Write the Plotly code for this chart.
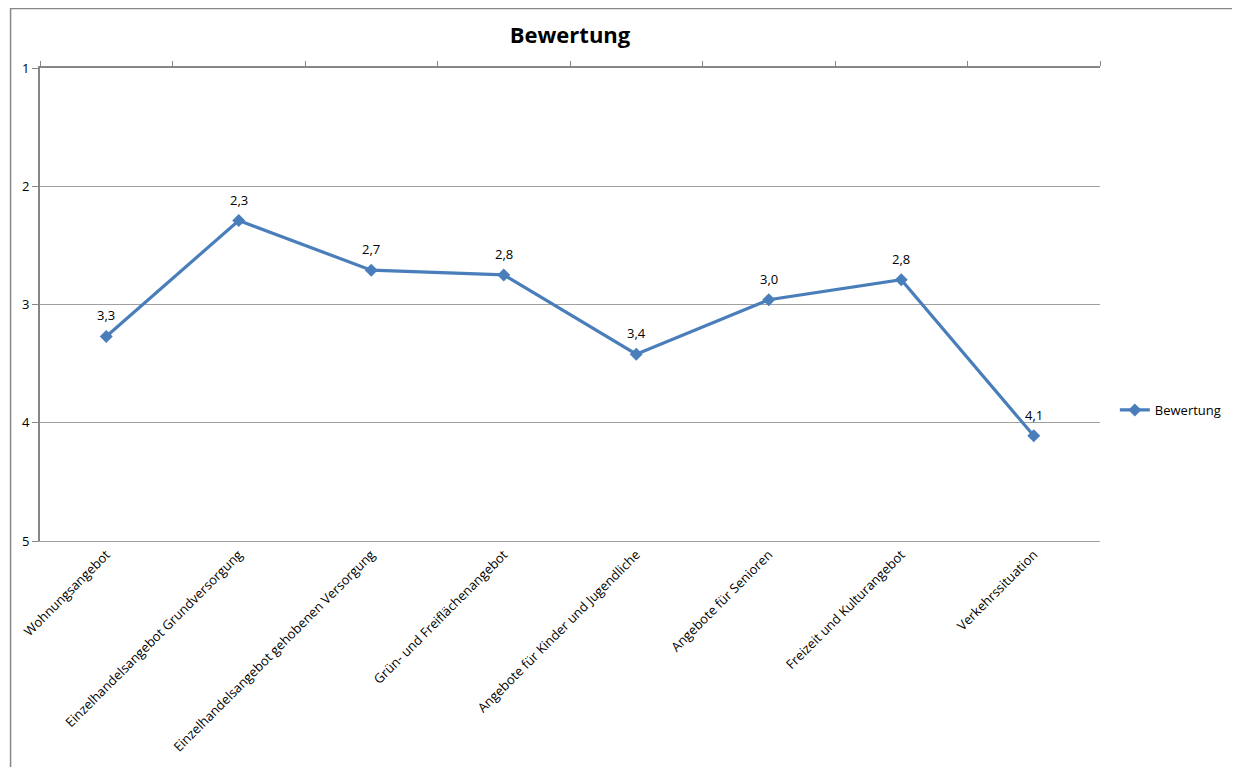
import plotly.graph_objects as go

categories = [
    "Wohnungsangebot",
    "Einzelhandelsangebot Grundversorgung",
    "Einzelhandelsangebot gehobenen Versorgung",
    "Grün- und Freiflächenangebot",
    "Angebote für Kinder und Jugendliche",
    "Angebote für Senioren",
    "Freizeit und Kulturangebot",
    "Verkehrssituation",
]
values = [3.27, 2.29, 2.71, 2.75, 3.42, 2.96, 2.79, 4.11]
series_name = "Bewertung"
y_ticks = [1, 2, 3, 4, 5]
boundaries = [i - 0.5 for i in range(len(categories) + 1)]

BLUE = "#4A7EBB"
FONT = "Open Sans"
W, H = 1232, 759
ML, MR, MT, MB = 30, 140, 60, 226
PW, PH = W - ML - MR, H - MT - MB

fig = go.Figure()
fig.add_trace(go.Scatter(
    x=list(range(len(categories))), y=values, name=series_name,
    mode="lines+markers",
    line=dict(color=BLUE, width=3.2),
    marker=dict(symbol="diamond", size=10, color=BLUE),
    cliponaxis=False,
))
# helper invisible trace for the top (crossing) axis
fig.add_trace(go.Scatter(
    x=[boundaries[0], boundaries[-1]], y=[1, 1], xaxis="x2", yaxis="y",
    mode="lines", line=dict(width=0), showlegend=False, hoverinfo="skip",
))

annotations = [
    dict(x=i, y=v, xref="x", yref="y", text=f"{v:.1f}".replace(".", ","),
         showarrow=False, yshift=21, font=dict(family=FONT, size=13, color="#000000"))
    for i, v in enumerate(values)
]

fig.update_layout(
    width=W, height=H,
    margin=dict(l=ML, r=MR, t=MT, b=MB),
    paper_bgcolor="white", plot_bgcolor="white",
    separators=",.",
    title=dict(text="<b>Bewertung</b>", x=0.5, xref="paper", xanchor="center",
               y=(H - 27) / H, yref="container", yanchor="middle",
               font=dict(family=FONT, size=22, color="#000000")),
    font=dict(family=FONT, size=13, color="#000000"),
    annotations=annotations,
    xaxis=dict(
        range=[-0.5, len(categories) - 0.5],
        tickmode="array", tickvals=list(range(len(categories))), ticktext=categories,
        tickangle=-45, ticks="", showgrid=False, zeroline=False,
        showline=True, linecolor="#A0A0A0", linewidth=1,
        tickfont=dict(family=FONT, size=13),
    ),
    xaxis2=dict(
        overlaying="x", side="top", anchor="y",
        range=[-0.5, len(categories) - 0.5],
        tickmode="array", tickvals=boundaries, showticklabels=False,
        ticks="outside", ticklen=5, tickcolor="#868686", tickwidth=1,
        showline=True, linecolor="#868686", linewidth=2,
        showgrid=False, zeroline=False,
    ),
    yaxis=dict(
        range=[5, 1], tickmode="array", tickvals=y_ticks,
        ticks="outside", ticklen=6, tickcolor="#868686",
        showline=True, linecolor="#868686", linewidth=2,
        showgrid=True, gridcolor="#A0A0A0", gridwidth=1, zeroline=False,
        tickfont=dict(family=FONT, size=13),
    ),
    showlegend=True,
    legend=dict(x=1.014, y=0.277, xanchor="left", yanchor="middle",
                font=dict(family=FONT, size=13), bgcolor="rgba(0,0,0,0)",
                itemwidth=30),
)

fig.add_shape(type="rect", xref="paper", yref="paper",
              x0=(0.5 - ML) / PW, x1=(1228 - ML) / PW,
              y0=-0.6, y1=1 + (MT - 0.5) / PH,
              line=dict(color="#888888", width=1.5), fillcolor="rgba(0,0,0,0)",
              layer="below")

fig.write_html("out.html")
